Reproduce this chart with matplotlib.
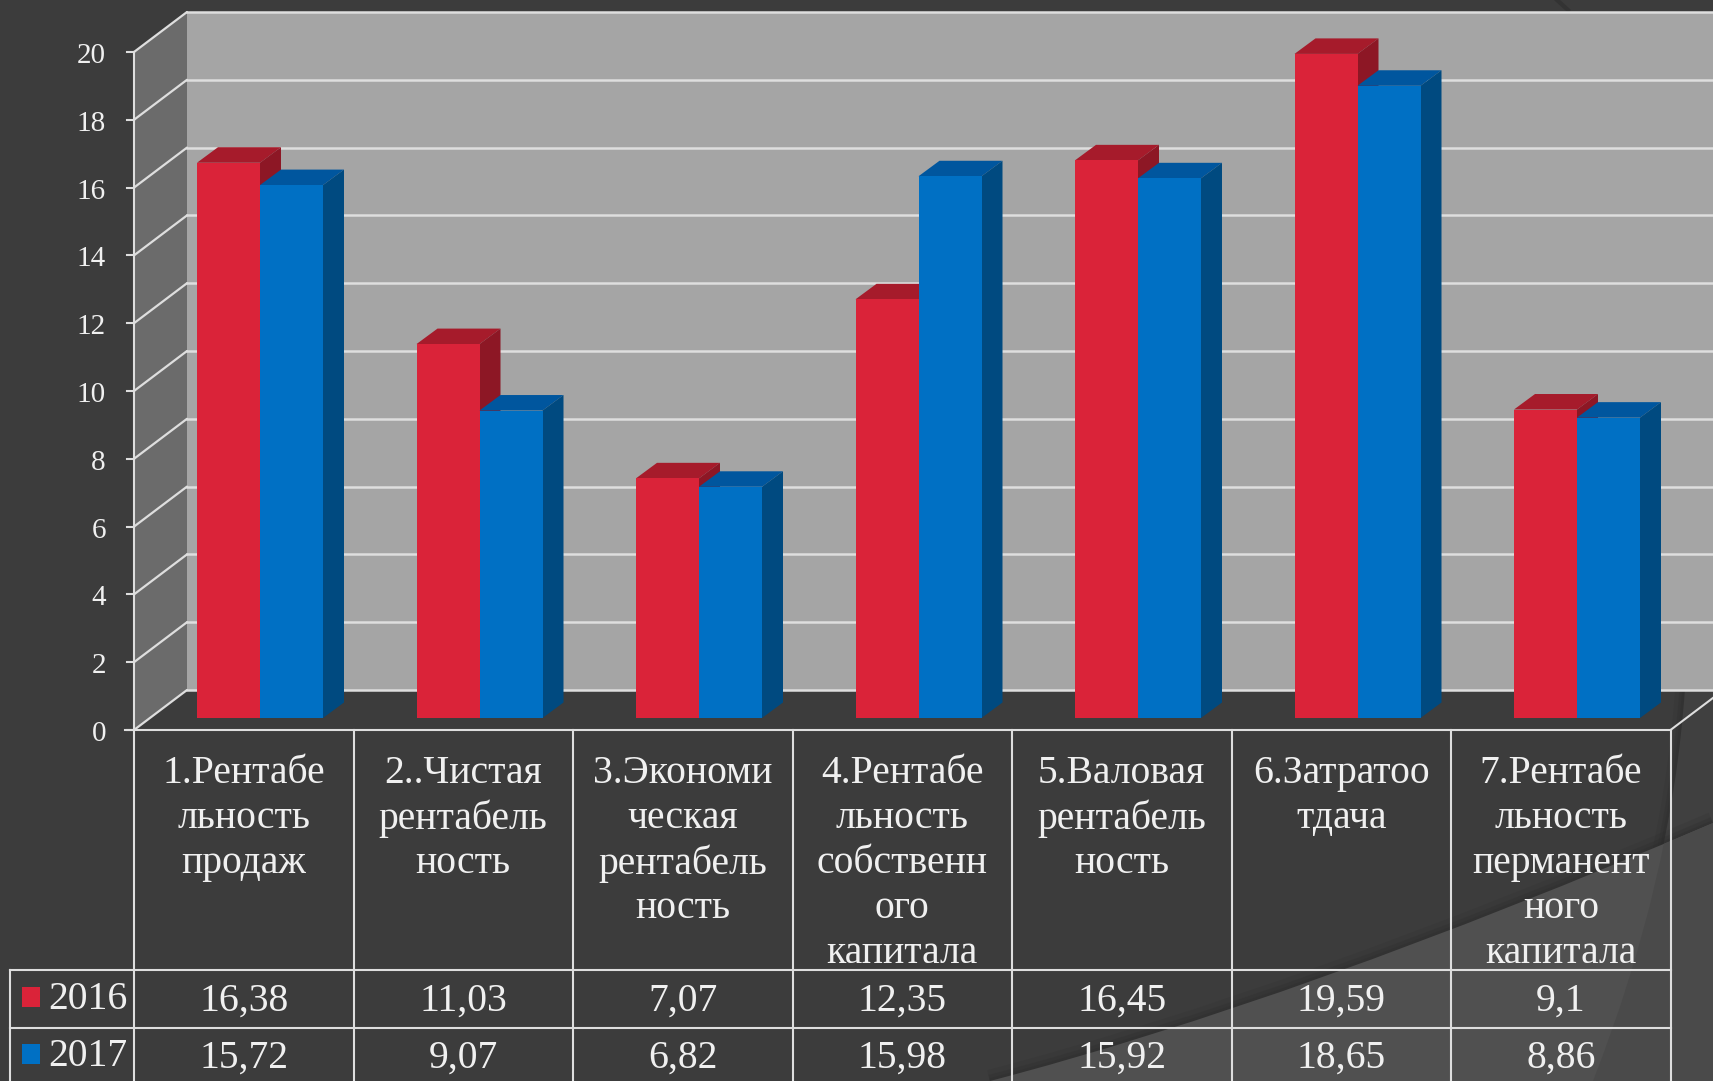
import matplotlib
matplotlib.use("Agg")
import matplotlib.pyplot as plt
from matplotlib.patches import Polygon, PathPatch, Rectangle
from matplotlib.path import Path

categories = [
    "1.Рентабе\nльность\nпродаж",
    "2..Чистая\nрентабель\nность",
    "3.Экономи\nческая\nрентабель\nность",
    "4.Рентабе\nльность\nсобственн\nого\nкапитала",
    "5.Валовая\nрентабель\nность",
    "6.Затратоо\nтдача",
    "7.Рентабе\nльность\nперманент\nного\nкапитала",
]
values_2016 = [16.38, 11.03, 7.07, 12.35, 16.45, 19.59, 9.1]
values_2017 = [15.72, 9.07, 6.82, 15.98, 15.92, 18.65, 8.86]
y_ticks = [0, 2, 4, 6, 8, 10, 12, 14, 16, 18, 20]

W, H = 1713, 1081
X0, STEP = 134, 219.5      # pixel of the axis, pixels per category
Y0, UNIT = 730, 33.9       # pixel of zero, pixels per value unit
DARK, LIGHT = "#3c3c3c", "#505050"
LINE = "#dedede"
TEXT = "#f0f0f0"
RED, RED_TOP, RED_SIDE = "#da2339", "#a61b2b", "#8d1725"
BLUE, BLUE_TOP, BLUE_SIDE = "#0070c4", "#00569e", "#004a80"
FONT = "Liberation Serif"

fig = plt.figure(figsize=(W / 100, H / 100), dpi=100, facecolor=DARK)

# slide background, in pixels
bg = fig.add_axes([0, 0, 1, 1])
bg.set_xlim(0, W)
bg.set_ylim(H, 0)
bg.axis("off")

arc_pts = [(1685, 688), (1672, 880), (1593, H)]
arc_line = Path(arc_pts, [Path.MOVETO, Path.CURVE3, Path.CURVE3])
arc_fill = Path(
    arc_pts + [(W, H), (W, 688), (1685, 688)],
    [Path.MOVETO, Path.CURVE3, Path.CURVE3, Path.LINETO, Path.LINETO, Path.CLOSEPOLY],
)
swoosh_pts = [(990, H), (1300, 1000), (W, 823)]
swoosh_line = Path(swoosh_pts, [Path.MOVETO, Path.CURVE3, Path.CURVE3])
swoosh_fill = Path(
    swoosh_pts + [(W, H), (990, H)],
    [Path.MOVETO, Path.CURVE3, Path.CURVE3, Path.LINETO, Path.CLOSEPOLY],
)

# soft shadows along both curves
for lw, a in [(14, 0.18), (8, 0.25), (4, 0.3)]:
    bg.add_patch(PathPatch(arc_line, fc="none", ec="#2c2c2c", lw=lw, alpha=a))
bg.add_patch(PathPatch(arc_fill, fc="#404040", ec="none"))
for lw, a in [(16, 0.18), (9, 0.25), (4, 0.3)]:
    bg.add_patch(PathPatch(swoosh_line, fc="none", ec="#2c2c2c", lw=lw, alpha=a))
bg.add_patch(PathPatch(swoosh_fill, fc=LIGHT, ec="none"))
right_part = PathPatch(swoosh_fill, fc="#4a4a4a", ec="none")
bg.add_patch(right_part)
right_part.set_clip_path(PathPatch(arc_fill, transform=bg.transData))
bg.plot([1557, 1568], [0, 10], color="#333333", lw=3)

# chart axes: x in categories, y in values
ax = fig.add_axes([0, 0, 1, 1])
ax.set_xlim(-X0 / STEP, (W - X0) / STEP)
ax.set_ylim((Y0 - H) / UNIT, Y0 / UNIT)
ax.axis("off")
ax.patch.set_alpha(0)

DX, DY = 53 / STEP, 40 / UNIT   # wall depth
n = len(categories)
top = y_ticks[-1]

ax.add_patch(Rectangle((DX, DY), n + 1, top, fc="#a5a5a5", ec="none", zorder=1))
ax.add_patch(Polygon([(0, 0), (DX, DY), (DX, top + DY), (0, top)], fc="#6b6b6b", ec="none", zorder=1))
for v in y_ticks:
    ax.plot([0, DX], [v, v + DY], color=LINE, lw=1.6, solid_capstyle="round", zorder=2)
    ax.plot([DX, n + DX], [v + DY, v + DY], color=LINE, lw=1.8, zorder=2)
    ax.plot([-7 / STEP, 0], [v, v], color=LINE, lw=1.5, zorder=2)
    ax.text(-28 / STEP, v - 4 / UNIT, str(v), ha="right", va="center",
            color=TEXT, fontsize=21, family=FONT)
ax.plot([0, 0], [0, top], color=LINE, lw=1.5, zorder=2)
ax.plot([n, n + DX], [0, DY], color=LINE, lw=1.5, zorder=2)

# bars, front face plus top and side
BAR_X, BAR_W, BAR_Y = 63 / STEP, 63 / STEP, 12 / UNIT
BAR_DX, BAR_DY = 21 / STEP, 15.5 / UNIT


def draw_bars(vals, offset, front, top_col, side_col, z):
    for i, v in enumerate(vals):
        x = i + BAR_X + offset
        y = BAR_Y + v
        ax.add_patch(Polygon([(x, y), (x + BAR_DX, y + BAR_DY), (x + BAR_W + BAR_DX, y + BAR_DY), (x + BAR_W, y)],
                             fc=top_col, ec="none", zorder=z))
        ax.add_patch(Polygon([(x + BAR_W, BAR_Y), (x + BAR_W + BAR_DX, BAR_Y + BAR_DY),
                              (x + BAR_W + BAR_DX, y + BAR_DY), (x + BAR_W, y)],
                             fc=side_col, ec="none", zorder=z))
        ax.bar(x, v, BAR_W, bottom=BAR_Y, align="edge", color=front, zorder=z)


draw_bars(values_2016, 0, RED, RED_TOP, RED_SIDE, 3)
draw_bars(values_2017, BAR_W, BLUE, BLUE_TOP, BLUE_SIDE, 4)

# data table
row1, row2, bottom = (Y0 - 970) / UNIT, (Y0 - 1028) / UNIT, (Y0 - H) / UNIT
left = (10 - X0) / STEP
ax.plot([-9 / STEP, n], [0, 0], color=LINE, lw=1.5, zorder=5)
ax.plot([left, n], [row1, row1], color=LINE, lw=1.5, zorder=5)
ax.plot([left, n], [row2, row2], color=LINE, lw=1.5, zorder=5)
ax.plot([left, left], [row1, bottom], color=LINE, lw=1.5, zorder=5)
for i in range(n + 1):
    ax.plot([i, i], [0, bottom], color=LINE, lw=1.5, zorder=5)

for i, name in enumerate(categories):
    for k, line in enumerate(name.split("\n")):
        ax.text(i + 0.5, (Y0 - 774 - k * 45) / UNIT, line, ha="center", va="center",
                color=TEXT, fontsize=28.5, family=FONT)
    ax.text(i + 0.5, (Y0 - 1001) / UNIT, str(values_2016[i]).replace(".", ","), ha="center", va="center",
            color=TEXT, fontsize=28.5, family=FONT)
    ax.text(i + 0.5, (Y0 - 1058) / UNIT, str(values_2017[i]).replace(".", ","), ha="center", va="center",
            color=TEXT, fontsize=28.5, family=FONT)

for label, colour, yc in [("2016", RED, 996.5), ("2017", BLUE, 1054)]:
    ax.add_patch(Rectangle(((22 - X0) / STEP, (Y0 - yc - 10) / UNIT), 18 / STEP, 20 / UNIT, fc=colour, ec="none", zorder=5))
    ax.text((48 - X0) / STEP, (Y0 - yc - 3) / UNIT, label, ha="left", va="center",
            color=TEXT, fontsize=28.5, family=FONT)

fig.savefig("out.png", dpi=100, facecolor=DARK)
